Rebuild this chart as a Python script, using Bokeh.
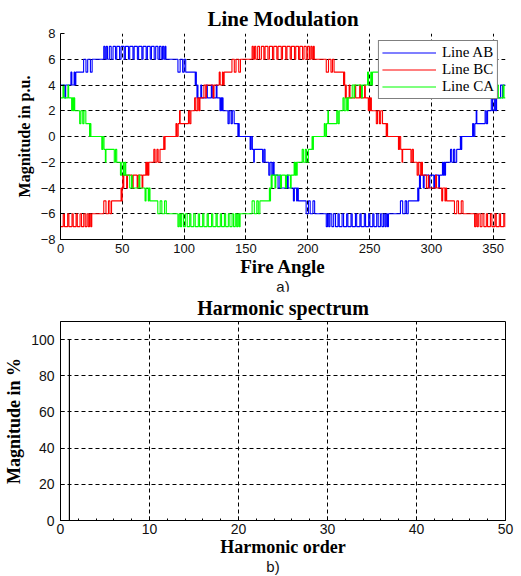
from bokeh.plotting import figure
from bokeh.layouts import column
from bokeh.models import FixedTicker, Div
from bokeh.embed import file_html
from bokeh.resources import INLINE

# ---------------- data: top panel (line voltages, level changes) ----------------
x_ticks_top = [0, 50, 100, 150, 200, 250, 300, 350]
y_ticks_top = [-8, -6, -4, -2, 0, 2, 4, 6, 8]

ab_angle = [0.0, 3.5, 4.2, 8.4, 9.2, 11.0, 11.6, 12.4, 18.7, 20.6, 22.0, 24.2, 25.6,
            35.0, 36.0, 37.0, 38.0, 39.5, 41.0, 42.5, 44.5, 45.5, 47.8, 49.0, 51.5, 52.5, 55.0,
            56.0, 58.6, 59.6, 62.2, 63.2, 65.8, 66.8, 69.3, 70.3, 72.6, 73.6, 75.8, 77.0, 78.8,
            80.0, 81.4, 82.5, 83.5, 84.5, 85.3,
            95.0, 96.8, 98.8, 100.0, 101.3,
            109.0, 109.4, 109.9, 110.4, 110.8, 111.2, 113.5, 114.2, 118.0, 118.8, 122.0, 122.8, 126.0, 126.6,
            129.0, 129.6, 130.4, 130.9, 131.5,
            135.5, 136.5, 138.0, 139.0, 140.5, 143.5, 144.0, 144.6,
            153.4, 154.2, 155.2, 156.3, 156.8, 163.5, 164.5, 165.5,
            168.5, 169.5, 171.0, 172.0, 172.8, 176.0, 177.5, 178.0,
            180.0, 183.5, 184.2, 188.4, 189.2, 191.0, 191.6, 192.4, 198.7, 200.6, 202.0, 204.2, 205.6,
            215.0, 216.0, 217.0, 218.0, 219.5, 221.0, 222.5, 224.5, 225.5, 227.8, 229.0, 231.5, 232.5, 235.0,
            236.0, 238.6, 239.6, 242.2, 243.2, 245.8, 246.8, 249.3, 250.3, 252.6, 253.6, 255.8, 257.0, 258.8,
            260.0, 261.4, 262.5, 263.5, 264.5, 265.3,
            275.0, 276.8, 278.8, 280.0, 281.3,
            289.0, 289.4, 289.9, 290.4, 290.8, 291.2, 293.5, 294.2, 298.0, 298.8, 302.0, 302.8, 306.0, 306.6,
            309.0, 309.6, 310.4, 310.9, 311.5,
            315.5, 316.5, 318.0, 319.0, 320.5, 323.5, 324.0, 324.6,
            333.4, 334.2, 335.2, 336.3, 336.8, 343.5, 344.5, 345.5,
            348.5, 349.5, 351.0, 352.0, 352.8, 356.0, 357.5, 358.0]
ab_level = [4, 3, 4, 5, 4, 5, 4, 5, 6, 5, 6, 5, 6,
            7, 6, 7, 6, 7, 6, 7, 6, 7, 6, 7, 6, 7, 6, 7, 6, 7, 6, 7, 6, 7, 6, 7, 6, 7, 6, 7, 6, 7, 6, 7, 6, 7, 6,
            5, 6, 5, 6, 5,
            4, 5, 4, 3, 4, 3, 4, 3, 4, 3, 4, 3, 4, 3,
            2, 3, 2, 3, 2,
            1, 2, 1, 2, 1, 0, 1, 0,
            -1, 0, -1, -2, -1, -2, -1, -2,
            -3, -2, -3, -2, -3, -4, -3, -4,
            -4, -3, -4, -5, -4, -5, -4, -5, -6, -5, -6, -5, -6,
            -7, -6, -7, -6, -7, -6, -7, -6, -7, -6, -7, -6, -7, -6, -7, -6, -7, -6, -7, -6, -7, -6, -7, -6,
            -7, -6, -7, -6, -7, -6, -7, -6, -7, -6,
            -5, -6, -5, -6, -5,
            -4, -5, -4, -3, -4, -3, -4, -3, -4, -3, -4, -3, -4, -3,
            -2, -3, -2, -3, -2,
            -1, -2, -1, -2, -1, 0, -1, 0,
            1, 0, 1, 2, 1, 2, 1, 2,
            3, 2, 3, 2, 3, 4, 3, 4]

bc_angle = [0.0, 2.2, 3.2, 5.8, 6.8, 9.3, 10.3, 12.6, 13.6, 15.8, 17.0, 18.8, 20.0, 21.4, 22.5, 23.5, 24.5, 25.3,
            35.0, 36.8, 38.8, 40.0, 41.3,
            49.0, 49.4, 49.9, 50.4, 50.8, 51.2, 53.5, 54.2, 58.0, 58.8, 62.0, 62.8, 66.0, 66.6,
            69.0, 69.6, 70.4, 70.9, 71.5,
            75.5, 76.5, 78.0, 79.0, 80.5, 83.5, 84.0, 84.6,
            93.4, 94.2, 95.2, 96.3, 96.8, 103.5, 104.5, 105.5,
            108.5, 109.5, 111.0, 112.0, 112.8, 116.0, 117.5, 118.0,
            120.0, 123.5, 124.2, 128.4, 129.2, 131.0, 131.6, 132.4, 138.7, 140.6, 142.0, 144.2, 145.6,
            155.0, 156.0, 157.0, 158.0, 159.5, 161.0, 162.5, 164.5, 165.5, 167.8, 169.0, 171.5, 172.5, 175.0,
            176.0, 178.6, 179.6, 182.2, 183.2, 185.8, 186.8, 189.3, 190.3, 192.6, 193.6, 195.8, 197.0, 198.8,
            200.0, 201.4, 202.5, 203.5, 204.5, 205.3,
            215.0, 216.8, 218.8, 220.0, 221.3,
            229.0, 229.4, 229.9, 230.4, 230.8, 231.2, 233.5, 234.2, 238.0, 238.8, 242.0, 242.8, 246.0, 246.6,
            249.0, 249.6, 250.4, 250.9, 251.5,
            255.5, 256.5, 258.0, 259.0, 260.5, 263.5, 264.0, 264.6,
            273.4, 274.2, 275.2, 276.3, 276.8, 283.5, 284.5, 285.5,
            288.5, 289.5, 291.0, 292.0, 292.8, 296.0, 297.5, 298.0,
            300.0, 303.5, 304.2, 308.4, 309.2, 311.0, 311.6, 312.4, 318.7, 320.6, 322.0, 324.2, 325.6,
            335.0, 336.0, 337.0, 338.0, 339.5, 341.0, 342.5, 344.5, 345.5, 347.8, 349.0, 351.5, 352.5, 355.0,
            356.0, 358.6, 359.6]
bc_level = [-7, -6, -7, -6, -7, -6, -7, -6, -7, -6, -7, -6, -7, -6, -7, -6, -7, -6,
            -5, -6, -5, -6, -5,
            -4, -5, -4, -3, -4, -3, -4, -3, -4, -3, -4, -3, -4, -3,
            -2, -3, -2, -3, -2,
            -1, -2, -1, -2, -1, 0, -1, 0,
            1, 0, 1, 2, 1, 2, 1, 2,
            3, 2, 3, 2, 3, 4, 3, 4,
            4, 3, 4, 5, 4, 5, 4, 5, 6, 5, 6, 5, 6,
            7, 6, 7, 6, 7, 6, 7, 6, 7, 6, 7, 6, 7, 6, 7, 6, 7, 6, 7, 6, 7, 6, 7, 6, 7, 6, 7, 6, 7, 6,
            7, 6, 7, 6,
            5, 6, 5, 6, 5,
            4, 5, 4, 3, 4, 3, 4, 3, 4, 3, 4, 3, 4, 3,
            2, 3, 2, 3, 2,
            1, 2, 1, 2, 1, 0, 1, 0,
            -1, 0, -1, -2, -1, -2, -1, -2,
            -3, -2, -3, -2, -3, -4, -3, -4,
            -4, -3, -4, -5, -4, -5, -4, -5, -6, -5, -6, -5, -6,
            -7, -6, -7, -6, -7, -6, -7, -6, -7, -6, -7, -6, -7, -6, -7, -6, -7]

ca_angle = [0.0, 2.0, 2.8, 6.0, 6.6, 9.0, 9.6, 10.4, 10.9, 11.5,
            15.5, 16.5, 18.0, 19.0, 20.5, 23.5, 24.0, 24.6,
            33.4, 34.2, 35.2, 36.3, 36.8, 43.5, 44.5, 45.5,
            48.5, 49.5, 51.0, 52.0, 52.8, 56.0, 57.5, 58.0,
            60.0, 63.5, 64.2, 68.4, 69.2, 71.0, 71.6, 72.4, 78.7, 80.6, 82.0, 84.2, 85.6,
            95.0, 96.0, 97.0, 98.0, 99.5, 101.0, 102.5, 104.5, 105.5, 107.8, 109.0, 111.5, 112.5, 115.0,
            116.0, 118.6, 119.6, 122.2, 123.2, 125.8, 126.8, 129.3, 130.3, 132.6, 133.6, 135.8, 137.0, 138.8,
            140.0, 141.4, 142.5, 143.5, 144.5, 145.3,
            155.0, 156.8, 158.8, 160.0, 161.3,
            169.0, 169.4, 169.9, 170.4, 170.8, 171.2, 173.5, 174.2, 178.0, 178.8, 182.0, 182.8, 186.0, 186.6,
            189.0, 189.6, 190.4, 190.9, 191.5,
            195.5, 196.5, 198.0, 199.0, 200.5, 203.5, 204.0, 204.6,
            213.4, 214.2, 215.2, 216.3, 216.8, 223.5, 224.5, 225.5,
            228.5, 229.5, 231.0, 232.0, 232.8, 236.0, 237.5, 238.0,
            240.0, 243.5, 244.2, 248.4, 249.2, 251.0, 251.6, 252.4, 258.7, 260.6, 262.0, 264.2, 265.6,
            275.0, 276.0, 277.0, 278.0, 279.5, 281.0, 282.5, 284.5, 285.5, 287.8, 289.0, 291.5, 292.5, 295.0,
            296.0, 298.6, 299.6, 302.2, 303.2, 305.8, 306.8, 309.3, 310.3, 312.6, 313.6, 315.8, 317.0, 318.8,
            320.0, 321.4, 322.5, 323.5, 324.5, 325.3,
            335.0, 336.8, 338.8, 340.0, 341.3,
            349.0, 349.4, 349.9, 350.4, 350.8, 351.2, 353.5, 354.2, 358.0, 358.8]
ca_level = [3, 4, 3, 4, 3, 2, 3, 2, 3, 2,
            1, 2, 1, 2, 1, 0, 1, 0,
            -1, 0, -1, -2, -1, -2, -1, -2,
            -3, -2, -3, -2, -3, -4, -3, -4,
            -4, -3, -4, -5, -4, -5, -4, -5, -6, -5, -6, -5, -6,
            -7, -6, -7, -6, -7, -6, -7, -6, -7, -6, -7, -6, -7, -6, -7, -6, -7, -6, -7, -6, -7, -6, -7, -6,
            -7, -6, -7, -6, -7, -6, -7, -6, -7, -6,
            -5, -6, -5, -6, -5,
            -4, -5, -4, -3, -4, -3, -4, -3, -4, -3, -4, -3, -4, -3,
            -2, -3, -2, -3, -2,
            -1, -2, -1, -2, -1, 0, -1, 0,
            1, 0, 1, 2, 1, 2, 1, 2,
            3, 2, 3, 2, 3, 4, 3, 4,
            4, 3, 4, 5, 4, 5, 4, 5, 6, 5, 6, 5, 6,
            7, 6, 7, 6, 7, 6, 7, 6, 7, 6, 7, 6, 7, 6, 7, 6, 7, 6, 7, 6, 7, 6, 7, 6,
            7, 6, 7, 6, 7, 6, 7, 6, 7, 6,
            5, 6, 5, 6, 5,
            4, 5, 4, 3, 4, 3, 4, 3, 4, 3]

# ---------------- data: bottom panel (harmonic spectrum) ----------------
harm_order = [0, 1, 2, 3, 4, 5, 6, 7, 8, 9, 10, 11, 12, 13, 14, 15, 16, 17, 18, 19, 20,
              21, 22, 23, 24, 25, 26, 27, 28, 29, 30, 31, 32, 33, 34, 35, 36, 37, 38, 39, 40,
              41, 42, 43, 44, 45, 46, 47, 48, 49, 50]
harm_mag = [0, 100, 0, 0, 0, 0, 0, 0, 0, 0, 0, 0, 0, 0, 0, 0, 0, 0, 0, 0, 0,
            0, 0, 0, 0, 0, 0, 0, 0, 0, 0, 0, 0, 0, 0, 0, 0, 0, 0, 0, 0,
            0, 0, 0, 0, 0, 0, 0, 0, 0, 0]
x_ticks_bot = [0, 10, 20, 30, 40, 50]
x_minor_bot = [2, 4, 6, 8, 12, 14, 16, 18, 22, 24, 26, 28, 32, 34, 36, 38, 42, 44, 46, 48]
y_ticks_bot = [0, 20, 40, 60, 80, 100]

SERIF = "Liberation Serif"
SANS = "Liberation Sans"


def style_axes(p, tick_size, xlabel_size, ylabel_size):
    for ax in (p.xaxis[0], p.yaxis[0]):
        ax.axis_line_color = "black"
        ax.axis_line_width = 1
        ax.major_tick_in = 4
        ax.major_tick_out = 0
        ax.major_tick_line_color = "black"
        ax.minor_tick_line_color = None
        ax.major_label_text_font = SANS
        ax.major_label_text_font_size = tick_size
        ax.major_label_text_color = "#111111"
        ax.axis_label_text_font = SERIF
        ax.axis_label_text_font_style = "bold"
        ax.axis_label_text_color = "black"
    p.xaxis[0].axis_label_text_font_size = xlabel_size
    p.yaxis[0].axis_label_text_font_size = ylabel_size
    for g in (p.xgrid[0], p.ygrid[0]):
        g.grid_line_color = "black"
        g.grid_line_dash = "4 3"
        g.grid_line_width = 1
        g.grid_line_alpha = 1.0


def caption(text, pad_left, height, line_h):
    return Div(text=text, width=521, height=height, margin=0,
               styles={"font-family": SANS, "font-size": "15px", "text-align": "center",
                       "line-height": f"{line_h}px", "color": "#111111",
                       "padding-left": f"{pad_left}px", "box-sizing": "border-box"})


# ---------------- top figure ----------------
p1 = figure(width=521, height=282, x_range=(0, 360), y_range=(-8, 8),
            output_backend="svg", toolbar_location=None,
            min_border_left=58, min_border_right=16, min_border_top=33, min_border_bottom=43)
p1.title.text = "Line Modulation"
p1.title.align = "center"
p1.title.text_font = SERIF
p1.title.text_font_style = "bold"
p1.title.text_font_size = "21px"
p1.title.text_color = "black"
p1.title.standoff = 5
p1.outline_line_color = None

p1.step(ab_angle + [360], ab_level + [ab_level[-1]], mode="after",
        line_color="#0000ff", line_width=1.1, legend_label="Line AB")
p1.step(bc_angle + [360], bc_level + [bc_level[-1]], mode="after",
        line_color="#ff0000", line_width=1.1, legend_label="Line BC")
p1.step(ca_angle + [360], ca_level + [ca_level[-1]], mode="after",
        line_color="#00ff00", line_width=1.1, legend_label="Line CA")

p1.xaxis.ticker = FixedTicker(ticks=x_ticks_top)
p1.yaxis.ticker = FixedTicker(ticks=y_ticks_top)
p1.xaxis.axis_label = "Fire Angle"
p1.yaxis.axis_label = "Magnitude in p.u."
style_axes(p1, "13px", "19px", "16px")
p1.xaxis.major_label_standoff = 4
p1.yaxis.major_label_standoff = 5
p1.xaxis.axis_label_standoff = 0
p1.yaxis.axis_label_standoff = 5

lg = p1.legend[0]
lg.location = "top_right"
lg.margin = 7
lg.padding = 3
lg.spacing = 0
lg.border_line_color = "black"
lg.border_line_width = 1
lg.background_fill_alpha = 1.0
lg.label_text_font = SERIF
lg.label_text_font_size = "15px"
lg.label_text_color = "black"
lg.label_height = 15
lg.glyph_height = 15
lg.glyph_width = 54
lg.label_standoff = 6

# ---------------- bottom figure ----------------
p2 = figure(width=521, height=271, x_range=(0, 50), y_range=(0, 110),
            output_backend="svg", toolbar_location=None,
            min_border_left=60, min_border_right=11, min_border_top=30, min_border_bottom=42)
p2.title.text = "Harmonic spectrum"
p2.title.align = "center"
p2.title.text_font = SERIF
p2.title.text_font_style = "bold"
p2.title.text_font_size = "20px"
p2.title.text_color = "black"
p2.title.standoff = 5
p2.outline_line_color = "black"
p2.outline_line_width = 1

p2.segment(x0=harm_order, y0=[0] * len(harm_order), x1=harm_order, y1=harm_mag,
           line_color="black", line_width=1.2)

p2.xaxis.ticker = FixedTicker(ticks=x_ticks_bot, minor_ticks=x_minor_bot)
p2.yaxis.ticker = FixedTicker(ticks=y_ticks_bot)
p2.xaxis.axis_label = "Harmonic order"
p2.yaxis.axis_label = "Magnitude in %"
style_axes(p2, "14px", "18px", "18px")
p2.xaxis.minor_tick_line_color = "black"
p2.xaxis.minor_tick_in = 2
p2.xaxis.minor_tick_out = 0
p2.xaxis.major_label_standoff = 3
p2.yaxis.major_label_standoff = 6
p2.xaxis.axis_label_standoff = 0
p2.yaxis.axis_label_standoff = 4

layout = column(p1, caption("a)", 45, 9, 9), p2, caption("b)", 25, 14, 10), spacing=0)
open("out.html", "w").write(file_html(layout, INLINE))
